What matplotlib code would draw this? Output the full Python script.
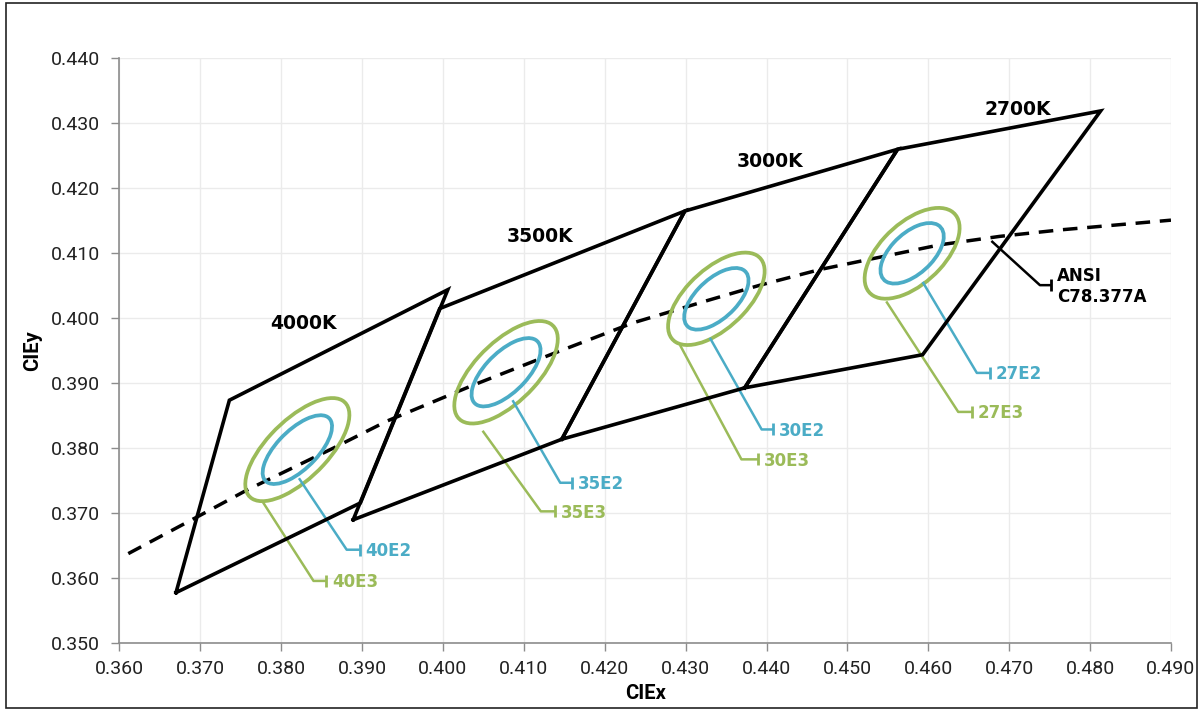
import matplotlib.pyplot as plt
from matplotlib.patches import Ellipse, Rectangle
from matplotlib.ticker import MultipleLocator, FormatStrFormatter

# ANSI quadrangles, corners in CIE x / y
cct_names = ['4000K', '3500K', '3000K', '2700K']
quad_x = [
    [0.3670, 0.3736, 0.4006, 0.3898],
    [0.3889, 0.3996, 0.4299, 0.4147],
    [0.4147, 0.4299, 0.4562, 0.4373],
    [0.4373, 0.4562, 0.4813, 0.4593],
]
quad_y = [
    [0.3578, 0.3874, 0.4044, 0.3716],
    [0.3690, 0.4015, 0.4165, 0.3814],
    [0.3814, 0.4165, 0.4260, 0.3893],
    [0.3893, 0.4260, 0.4319, 0.3944],
]
cct_label_x = [0.3827, 0.4120, 0.4404, 0.4710]
cct_label_y = [0.3992, 0.4126, 0.4241, 0.4322]

# dashed reference curve
locus_x = [0.3611, 0.3700, 0.3758, 0.3864, 0.3931, 0.4037, 0.4141, 0.4235,
           0.4326, 0.4392, 0.4466, 0.4614, 0.4688, 0.4763, 0.4900]
locus_y = [0.3638, 0.3697, 0.3736, 0.3800, 0.3842, 0.3897, 0.3948, 0.3993,
           0.4027, 0.4051, 0.4075, 0.4113, 0.4126, 0.4136, 0.4151]

# MacAdam ellipses (1-step semi axes)
ell_cx = [0.3820, 0.4078, 0.4338, 0.4580]
ell_cy = [0.3798, 0.3917, 0.4030, 0.4100]
ell_a = [0.00313, 0.00309, 0.00278, 0.00270]
ell_b = [0.00134, 0.00138, 0.00136, 0.00140]
ell_angle = [53.7, 54.0, 53.2, 53.7]

# leader lines: start, elbow, end
e2_labels = ['40E2', '35E2', '30E2', '27E2']
e2_lead_x = [[0.3822, 0.3881, 0.3897], [0.4086, 0.4145, 0.4160],
             [0.4330, 0.4394, 0.4408], [0.4593, 0.4660, 0.4676]]
e2_lead_y = [[0.3754, 0.3644], [0.3874, 0.3747], [0.3970, 0.3829], [0.4056, 0.3916]]
e3_labels = ['40E3', '35E3', '30E3', '27E3']
e3_lead_x = [[0.3777, 0.3840, 0.3856], [0.4049, 0.4121, 0.4139],
             [0.4293, 0.4369, 0.4390], [0.4548, 0.4637, 0.4654]]
e3_lead_y = [[0.3718, 0.3596], [0.3827, 0.3703], [0.3959, 0.3783], [0.4026, 0.3856]]
ansi_lead_x = [0.4678, 0.4738, 0.4752]
ansi_lead_y = [0.4119, 0.4051]

BLUE = '#4bacc6'
GREEN = '#9bbb59'
LABEL_FONT = ['DejaVu Sans']


def leader(ax, xs, ys, text, color, lw=1.8):
    py = [ys[0], ys[1], ys[1]]
    ax.plot(xs, py, color=color, lw=lw, zorder=3, solid_capstyle='butt')
    ax.plot([xs[2]], [ys[1]], marker='|', ms=8, mew=2, color=color, zorder=3)
    ax.annotate(text, (xs[2], ys[1]), xytext=(4, -1), textcoords='offset points',
                ha='left', va='center', color=color, fontsize=12,
                fontweight='bold', family=LABEL_FONT, linespacing=1.25)


def main():
    plt.rcParams['font.family'] = ['Roboto', 'DejaVu Sans']
    fig = plt.figure(figsize=(12.01, 7.11), dpi=100)
    ax = fig.add_axes([0.0994, 0.0952, 0.8756, 0.8228])

    ax.set_xlim(0.36, 0.49)
    ax.set_ylim(0.35, 0.44)
    ax.xaxis.set_major_locator(MultipleLocator(0.01))
    ax.yaxis.set_major_locator(MultipleLocator(0.01))
    ax.xaxis.set_major_formatter(FormatStrFormatter('%.3f'))
    ax.yaxis.set_major_formatter(FormatStrFormatter('%.3f'))
    ax.grid(True, color='#ebebeb', lw=1)
    ax.set_axisbelow(True)
    for s in ['top', 'right']:
        ax.spines[s].set_visible(False)
    for s in ['left', 'bottom']:
        ax.spines[s].set_color('#8c8c8c')
        ax.spines[s].set_linewidth(1.2)
    ax.tick_params(direction='out', length=6, width=1, color='#8c8c8c',
                   labelsize=14, labelcolor='#222222')
    ax.tick_params(axis='y', pad=8)
    ax.tick_params(axis='x', pad=6)
    ax.set_xlabel('CIEx', fontsize=14.5, fontweight='bold', labelpad=4)
    ax.set_ylabel('CIEy', fontsize=14.5, fontweight='bold', labelpad=6)

    ax.plot(locus_x, locus_y, color='black', lw=2.5, dashes=(4.2, 2.8), zorder=2)

    for i in range(len(cct_names)):
        xs = quad_x[i] + [quad_x[i][0]]
        ys = quad_y[i] + [quad_y[i][0]]
        ax.plot(xs, ys, color='black', lw=2.6, solid_joinstyle='miter', zorder=4)
        ax.text(cct_label_x[i], cct_label_y[i], cct_names[i], ha='center', va='center',
                fontsize=13.5, fontweight='bold', family=LABEL_FONT, color='black')

    for i in range(len(ell_cx)):
        for n, col in [(3, GREEN), (2, BLUE)]:
            e = Ellipse((ell_cx[i], ell_cy[i]), 2 * n * ell_a[i], 2 * n * ell_b[i],
                        angle=ell_angle[i], fill=False, ec=col, lw=2.7, zorder=3)
            ax.add_patch(e)
        leader(ax, e2_lead_x[i], e2_lead_y[i], e2_labels[i], BLUE)
        leader(ax, e3_lead_x[i], e3_lead_y[i], e3_labels[i], GREEN)

    leader(ax, ansi_lead_x, ansi_lead_y, 'ANSI\nC78.377A', 'black')

    fig.patches.append(Rectangle((6 / 1201, 3 / 711), 1191 / 1201, 705 / 711,
                                 transform=fig.transFigure, fill=False,
                                 ec='#222222', lw=1.2))
    fig.savefig('out.png', dpi=100)


if __name__ == '__main__':
    main()
